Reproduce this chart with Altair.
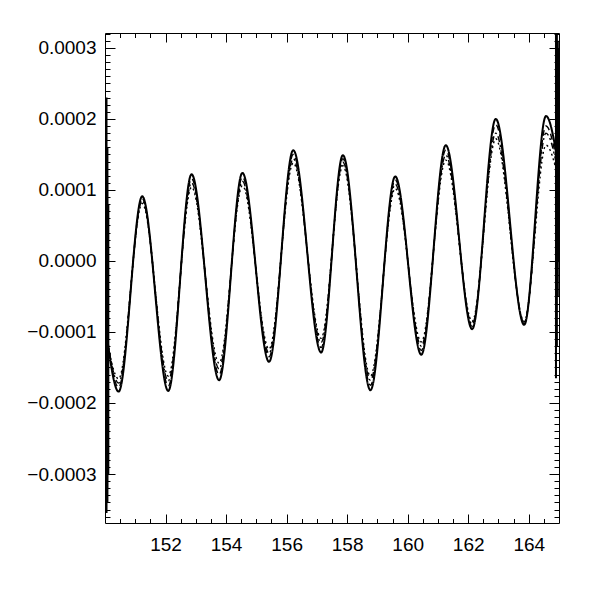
import altair as alt
import pandas as pd

# ---- data ----
x_ext = [150.0, 150.45, 151.23, 152.09, 152.86, 153.77, 154.54, 155.42, 156.22, 157.14,
         157.86, 158.77, 159.59, 160.45, 161.26, 162.13, 162.91, 163.85, 164.57, 165.0]

s_solid = [-0.000085, -0.000184, 0.000091, -0.000183, 0.000122, -0.000168, 0.000124, -0.000142,
           0.000156, -0.000129, 0.000149, -0.000182, 0.000119, -0.000132, 0.000163, -0.000096,
           0.000200, -0.000090, 0.000204, 0.000128]
s_dashed = [-0.000085, -0.000178, 0.000088, -0.000176, 0.000116, -0.000160, 0.000118, -0.000135,
            0.000150, -0.000122, 0.000144, -0.000175, 0.000114, -0.000126, 0.000156, -0.000092,
            0.000192, -0.000088, 0.000190, 0.000122]
s_dashdot = [-0.000090, -0.000172, 0.000085, -0.000169, 0.000110, -0.000152, 0.000112, -0.000130,
             0.000144, -0.000115, 0.000139, -0.000168, 0.000108, -0.000120, 0.000149, -0.000089,
             0.000180, -0.000087, 0.000180, 0.000118]
s_dotted = [-0.000095, -0.000166, 0.000081, -0.000162, 0.000104, -0.000144, 0.000106, -0.000124,
            0.000138, -0.000109, 0.000134, -0.000162, 0.000102, -0.000114, 0.000142, -0.000085,
            0.000172, -0.000085, 0.000163, 0.000112]

series_names = ["solid", "dashed", "dashdot", "dotted"]
series_vals = [s_solid, s_dashed, s_dashdot, s_dotted]
series_dash = [[1, 0], [6, 4], [6, 3, 2, 3], [2, 3]]
series_width = [2.0, 1.4, 1.4, 1.4]

# near-vertical excursions at the two ends of the record
spike_series = ["solid", "dashed", "dashdot", "dotted", "solid", "dashed", "dashdot", "dotted"]
spike_x = [150.05, 150.08, 150.11, 150.07, 164.90, 164.93, 164.96, 164.98]
spike_lo = [-0.000355, -0.00034, -0.00030, -0.00032, -0.000165, -0.00012, -0.00005, 0.0]
spike_hi = [0.00023, 0.00016, 0.00008, 0.00012, 0.00033, 0.00033, 0.00031, 0.00030]

x_major = [152, 154, 156, 158, 160, 162, 164]
x_minor = [150.5 + 0.5 * k for k in range(29)]
y_major = [-0.0003, -0.0002, -0.0001, 0.0, 0.0001, 0.0002, 0.0003]
y_minor = [round(-0.00036 + 0.00001 * k, 6) for k in range(69)]

x_domain = [150, 165]
y_domain = [-0.000369, 0.000321]

rows = []
for name, vals in zip(series_names, series_vals):
    for i, (xv, yv) in enumerate(zip(x_ext, vals)):
        rows.append({"series": name, "x": xv, "y": yv, "i": i})
df = pd.DataFrame(rows)
spikes = pd.DataFrame({"series": spike_series, "x": spike_x, "lo": spike_lo, "hi": spike_hi})

xs = alt.Scale(domain=x_domain, nice=False, zero=False)
ys = alt.Scale(domain=y_domain, nice=False, zero=False)

FONT = "Liberation Sans"


def make_axis(orient, values, size, labels, fmt=None, pad=10):
    kw = dict(orient=orient, values=values, tickSize=size, offset=-size, labels=labels,
              domain=False, grid=False, title=None, tickColor="black", tickWidth=1,
              labelFont=FONT, labelFontSize=19, labelColor="black", labelPadding=pad,
              labelFlush=False, labelOverlap=False)
    if fmt:
        kw["format"] = fmt
    return alt.Axis(**kw)


layers = []
for name, dash, w in zip(series_names, series_dash, series_width):
    layers.append(
        alt.Chart(df).transform_filter(alt.datum.series == name)
        .mark_line(interpolate="monotone", clip=True, color="black", strokeDash=dash, strokeWidth=w)
        .encode(x=alt.X("x:Q", scale=xs, axis=None),
                y=alt.Y("y:Q", scale=ys, axis=None),
                order="i:Q")
    )

layers.append(
    alt.Chart(spikes).mark_rule(clip=True, color="black", strokeWidth=2)
    .encode(x=alt.X("x:Q", scale=xs, axis=None),
            y=alt.Y("lo:Q", scale=ys, axis=None),
            y2="hi:Q")
)

axis_sets = [
    (make_axis("bottom", x_major, 9, True, pad=12), make_axis("left", y_major, 10, True, fmt=".4f", pad=9)),
    (make_axis("bottom", x_minor, 4.5, False), make_axis("left", y_minor, 5, False)),
    (make_axis("top", x_major, 9, False), make_axis("right", y_major, 10, False)),
    (make_axis("top", x_minor, 4.5, False), make_axis("right", y_minor, 5, False)),
]
for xa, ya in axis_sets:
    layers.append(
        alt.Chart(df).mark_point(opacity=0)
        .encode(x=alt.X("x:Q", scale=xs, axis=xa), y=alt.Y("y:Q", scale=ys, axis=ya))
    )

chart = (
    alt.layer(*layers)
    .resolve_axis(x="independent", y="independent")
    .properties(width=454, height=490,
                autosize=alt.AutoSizeParams(type="none"),
                padding={"left": 97, "top": 25, "right": 20, "bottom": 50},
                background="white")
    .configure_view(stroke="black", strokeWidth=1)
)

chart.save("out.html", embed_options={"renderer": "svg", "actions": False})
